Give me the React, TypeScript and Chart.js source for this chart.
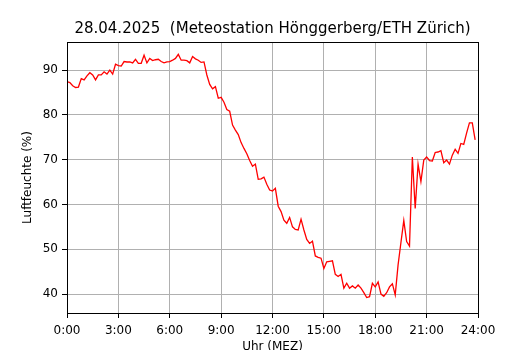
import React, { useEffect, useRef } from 'react';
import { Chart, registerables } from 'chart.js';
Chart.register(...registerables);

const chartTitle = '28.04.2025  (Meteostation Hönggerberg/ETH Zürich)';
const xLabel = 'Uhr (MEZ)';
const yLabel = 'Luftfeuchte (%)';
const xTicks = [0, 3, 6, 9, 12, 15, 18, 21, 24];
const yTicks = [40, 50, 60, 70, 80, 90];
const stepMinutes = 10;
// relative humidity, one value every 10 minutes from 0:00 to 23:50
const humidity = [
  87.4, 87.2, 86.5, 86.1, 86.2, 88.1,
  87.8, 88.7, 89.4, 88.9, 87.8, 88.9,
  88.9, 89.6, 89.1, 90.0, 89.1, 91.3,
  91.0, 90.9, 91.9, 91.8, 91.8, 91.6,
  92.4, 91.5, 91.5, 93.3, 91.6, 92.6,
  92.1, 92.3, 92.4, 91.9, 91.6, 91.8,
  91.9, 92.2, 92.6, 93.5, 92.2, 92.2,
  92.1, 91.6, 93.0, 92.5, 92.2, 91.7,
  91.8, 88.9, 86.8, 85.8, 86.3, 83.7,
  83.9, 82.8, 81.2, 80.8, 77.7, 76.6,
  75.6, 73.8, 72.5, 71.3, 69.8, 68.5,
  69.0, 65.6, 65.7, 66.1, 64.5, 63.2,
  63.0, 63.6, 59.6, 58.4, 56.5, 55.8,
  57.1, 55.0, 54.4, 54.3, 56.7, 54.3,
  52.2, 51.3, 51.8, 48.5, 48.2, 48.0,
  45.7, 47.2, 47.3, 47.4, 44.4, 43.9,
  44.4, 41.3, 42.4, 41.3, 41.8, 41.3,
  42.0, 41.3, 40.3, 39.2, 39.4, 42.4,
  41.6, 42.7, 40.0, 39.5, 40.3, 41.6,
  42.3, 39.8, 46.5, 51.5, 56.4, 51.7,
  50.7, 70.6, 59.1, 69.0, 65.1, 69.9,
  70.6, 69.8, 69.7, 71.6, 71.7, 72.0,
  69.3, 69.9, 69.0, 71.0, 72.3, 71.4,
  73.6, 73.4, 75.9, 78.2, 78.2, 74.4,
];

const FONT = 'DejaVu Sans';

const framePlugin = {
  id: 'frame',
  afterDraw(chart: any) {
    const { ctx, chartArea: a } = chart;
    ctx.save();
    ctx.strokeStyle = '#000';
    ctx.lineWidth = 1;
    ctx.strokeRect(Math.round(a.left) + 0.5, Math.round(a.top) + 0.5, Math.round(a.right - a.left), Math.round(a.bottom - a.top));
    // title centred over the plot area
    ctx.fillStyle = '#000';
    ctx.font = `15px "${FONT}"`;
    ctx.textAlign = 'center';
    ctx.textBaseline = 'alphabetic';
    ctx.fillText(chartTitle, (a.left + a.right) / 2, 33);
    ctx.restore();
  },
};

export default function App() {
  const ref = useRef<HTMLCanvasElement>(null);
  useEffect(() => {
    if (!ref.current) return;
    const points = humidity.map((v, i) => ({ x: (i * stepMinutes) / 60, y: v }));
    const chart = new Chart(ref.current, {
      type: 'line',
      data: {
        datasets: [
          {
            data: points,
            borderColor: '#ff0000',
            borderWidth: 1.3,
            pointRadius: 0,
            tension: 0,
            fill: false,
          },
        ],
      },
      options: {
        responsive: false,
        animation: false,
        layout: { padding: { left: 0, right: 52, top: 42, bottom: 0 } },
        plugins: {
          legend: { display: false },
          tooltip: { enabled: false },
          title: { display: false },
        },
        scales: {
          x: {
            type: 'linear',
            min: 0,
            max: 24,
            afterBuildTicks: (s: any) => {
              s.ticks = xTicks.map((v) => ({ value: v }));
            },
            afterFit: (s: any) => {
              s.height = 37;
            },
            ticks: {
              color: '#000',
              font: { family: FONT, size: 12 },
              padding: 6,
              maxRotation: 0,
              autoSkip: false,
              callback: (v: any) => `${v}:00`,
            },
            grid: { color: '#b0b0b0', lineWidth: 1, tickColor: '#000', tickLength: 5 },
            border: { display: false },
            title: {
              display: true,
              text: xLabel,
              color: '#000',
              font: { family: FONT, size: 12, lineHeight: 0.5 },
              padding: { top: 0, bottom: 0 },
            },
          },
          y: {
            type: 'linear',
            min: 35.76,
            max: 96.26,
            afterBuildTicks: (s: any) => {
              s.ticks = yTicks.map((v) => ({ value: v }));
            },
            afterFit: (s: any) => {
              s.width = 67;
            },
            ticks: {
              color: '#000',
              font: { family: FONT, size: 12 },
              padding: 4,
            },
            grid: { color: '#b0b0b0', lineWidth: 1, tickColor: '#000', tickLength: 5 },
            border: { display: false },
            title: {
              display: true,
              text: yLabel,
              color: '#000',
              font: { family: FONT, size: 12, lineHeight: 1.2 },
              padding: { top: 21, bottom: 0 },
            },
          },
        },
      },
      plugins: [framePlugin],
    } as any);
    return () => chart.destroy();
  }, []);
  return (
    <div style={{ position: 'absolute', left: 0, top: 0, width: 530, height: 350, background: '#fff' }}>
      <canvas ref={ref} width={530} height={350} style={{ display: 'block' }} />
    </div>
  );
}
